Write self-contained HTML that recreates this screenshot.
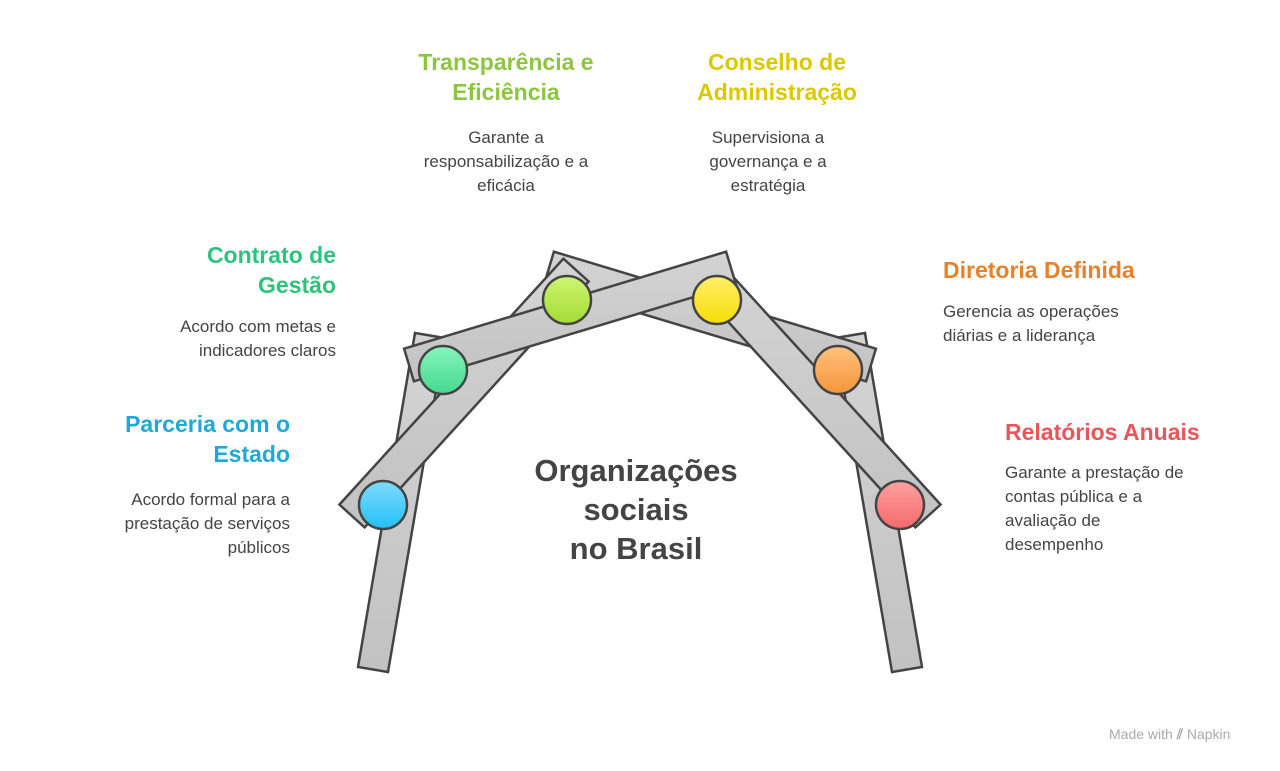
<!DOCTYPE html>
<html><head><meta charset="utf-8"><style>
body{margin:0;width:1280px;height:771px;background:#fff;position:relative;overflow:hidden;font-family:"Liberation Sans",sans-serif;}
.t{position:absolute;font-weight:bold;font-size:23px;line-height:30px;white-space:nowrap}
.b{position:absolute;font-size:17px;line-height:24px;color:#444;white-space:nowrap}
.c{text-align:center;transform:translateX(-50%)}
.r{text-align:right;transform:translateX(-100%)}
</style></head><body>
<svg width="1280" height="771" style="position:absolute;left:0;top:0">
<defs>
<linearGradient id="g" x1="0" y1="0" x2="0" y2="1"><stop offset="0" stop-color="#d4d4d4"/><stop offset="1" stop-color="#c2c2c2"/></linearGradient>
<linearGradient id="cb" x1="0" y1="0" x2="0" y2="1"><stop offset="0" stop-color="#7fdcff"/><stop offset="1" stop-color="#22c0f5"/></linearGradient>
<linearGradient id="cg" x1="0" y1="0" x2="0" y2="1"><stop offset="0" stop-color="#86f5bd"/><stop offset="1" stop-color="#45d98e"/></linearGradient>
<linearGradient id="cl" x1="0" y1="0" x2="0" y2="1"><stop offset="0" stop-color="#cff571"/><stop offset="1" stop-color="#a3dc35"/></linearGradient>
<linearGradient id="cy" x1="0" y1="0" x2="0" y2="1"><stop offset="0" stop-color="#fff06a"/><stop offset="1" stop-color="#f7dd05"/></linearGradient>
<linearGradient id="co" x1="0" y1="0" x2="0" y2="1"><stop offset="0" stop-color="#ffc27e"/><stop offset="1" stop-color="#f5953a"/></linearGradient>
<linearGradient id="cr" x1="0" y1="0" x2="0" y2="1"><stop offset="0" stop-color="#ffa0a0"/><stop offset="1" stop-color="#f56a6a"/></linearGradient>
</defs>
<g fill="url(#g)" stroke="#444" stroke-width="2.5" stroke-linejoin="miter">
<polygon points="415,333 445,338 388,672 358,667"/>
<polygon points="865,333 835,338 892,672 922,667"/>
<polygon points="875.9,348.7 866.1,381.3 544.1,284.3 553.9,251.7"/>
<polygon points="339.4,504.6 364.6,527.4 588.6,281.4 563.4,258.6"/>
<polygon points="940.6,504.6 915.4,527.4 691.4,281.4 716.6,258.6"/>
<polygon points="404.1,348.7 413.9,381.3 735.9,284.3 726.1,251.7"/>
</g>
<g stroke="#444" stroke-width="2.5">
<circle cx="383" cy="505" r="24" fill="url(#cb)"/>
<circle cx="443" cy="370" r="24" fill="url(#cg)"/>
<circle cx="567" cy="300" r="24" fill="url(#cl)"/>
<circle cx="717" cy="300" r="24" fill="url(#cy)"/>
<circle cx="838" cy="370" r="24" fill="url(#co)"/>
<circle cx="900" cy="505" r="24" fill="url(#cr)"/>
</g>
</svg>
<div class="t c" style="left:506px;top:47px;color:#8cc63f">Transparência e<br>Eficiência</div>
<div class="b c" style="left:506px;top:126px">Garante a<br>responsabilização e a<br>eficácia</div>
<div class="t c" style="left:777px;top:47px;color:#dcc800">Conselho de<br>Administração</div>
<div class="b c" style="left:768px;top:126px">Supervisiona a<br>governança e a<br>estratégia</div>
<div class="t r" style="left:336px;top:240px;color:#2ec27e;text-align:right">Contrato de<br>Gestão</div>
<div class="b r" style="left:336px;top:315px;text-align:right">Acordo com metas e<br>indicadores claros</div>
<div class="t r" style="left:290px;top:409px;color:#1fa8d8;text-align:right">Parceria com o<br>Estado</div>
<div class="b r" style="left:290px;top:488px;text-align:right">Acordo formal para a<br>prestação de serviços<br>públicos</div>
<div class="t" style="left:943px;top:255px;color:#e8822a">Diretoria Definida</div>
<div class="b" style="left:943px;top:300px">Gerencia as operações<br>diárias e a liderança</div>
<div class="t" style="left:1005px;top:417px;color:#e8555a">Relatórios Anuais</div>
<div class="b" style="left:1005px;top:461px">Garante a prestação de<br>contas pública e a<br>avaliação de<br>desempenho</div>
<div class="c" style="position:absolute;left:636px;top:451px;font-weight:bold;font-size:31px;line-height:39px;color:#444;white-space:nowrap">Organizações<br>sociais<br>no Brasil</div>
<div style="position:absolute;left:1109px;top:726px;font-size:14px;color:#aaa;white-space:nowrap">Made with <span style="font-weight:bold">⫽</span> Napkin</div>
</body></html>
